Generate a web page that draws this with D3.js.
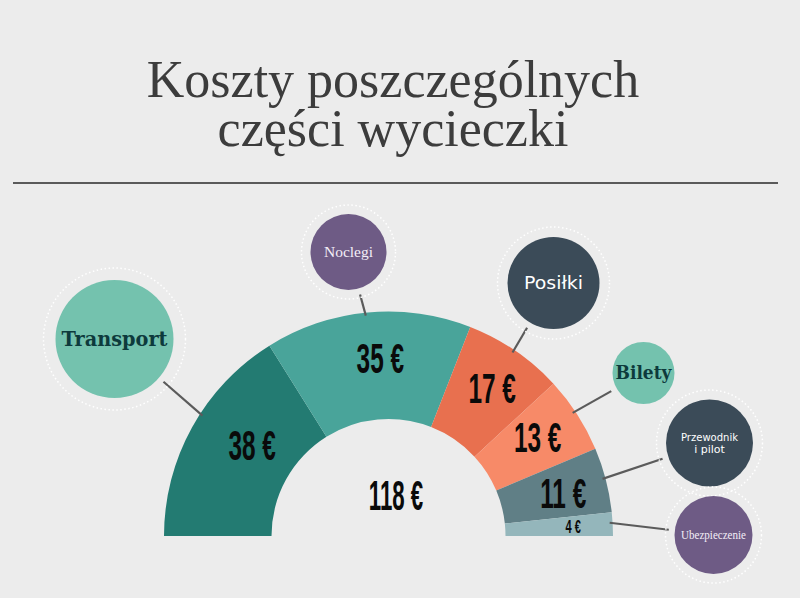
<!DOCTYPE html>
<html><head><meta charset="utf-8">
<script src="https://cdn.jsdelivr.net/npm/d3@7"></script>
<style>
html,body{margin:0;padding:0;background:#ececec;}
svg{display:block;}
</style></head>
<body>
<svg id="chart" width="800" height="598"></svg>
<script>
// ---- data ----
const categories = ["Transport","Noclegi","Posiłki","Bilety","Przewodnik i pilot","Ubezpieczenie"];
const values = [38, 35, 17, 13, 11, 4];
const valueLabels = ["38 €","35 €","17 €","13 €","11 €","4 €"];
const totalLabel = "118 €";
const titleLines = ["Koszty poszczególnych","części wycieczki"];

// ---- styles / layout ----
const sliceColors = ["#237b72","#49a49a","#e8704f","#f78a68","#607f86","#94b6bb"];
const bubbleColors = ["#74c2ae","#6e5b85","#3b4b58","#74c2ae","#3b4b58","#6e5b85"];
const bubbleTextColors = ["#0d3a3c","#f3eef7","#ffffff","#0d3a3c","#ffffff","#f3eef7"];
const bubbleFonts = ["'DejaVu Serif'","'Liberation Serif'","'DejaVu Sans'","'DejaVu Serif'","'DejaVu Sans'","'Liberation Serif'"];
const bubbleWeights = ["bold","normal","normal","bold","normal","normal"];
const bubbleFontSizes = [20, 15, 18, 19, 11, 12];
const bubbleTextWidths = [106, 49, 59, 56, 57, 65];
const bubbleRadius = [59, 38, 46, 31, 43.5, 39];
const bubbleRing = [71, 47, 56, 0, 53, 48];
// bubble centre offsets relative to the arc centre
const bubbleOffset = [[-274,-197],[-40,-284],[165,-253],[255,-163],[321,-93],[325,-1]];
// leader start angle (deg, measured from the left end of the half ring)
const leaderAngle = [33, 84, 124, 146.3, 165, 176.7];
// value label placement: angle nudge (deg) and radius
const labelNudge = [4.8, 2.7, 0.6, -0.8, 0.5, 0];
const labelRadius = [164, 178, 181, 179, 180, 185];
const labelSizes = [42, 42, 42, 42, 42, 19];

const svg = d3.select("#chart");
const cx = 388.5, cy = 536, R = 224.5, r0 = 117;

// title
svg.selectAll("text.title").data(titleLines).join("text")
  .attr("class","title")
  .attr("x", 393).attr("y",(d,i)=>97 + i*49)
  .attr("text-anchor","middle")
  .attr("font-family","'Liberation Serif', serif")
  .attr("font-size",52)
  .attr("fill","#3c3c3c")
  .text(d=>d);

svg.append("line").attr("x1",13).attr("x2",778).attr("y1",183).attr("y2",183)
  .attr("stroke","#5a5a5a").attr("stroke-width",2);

// half donut
const pie = d3.pie().sort(null).startAngle(-Math.PI/2).endAngle(Math.PI/2);
const arcs = pie(values);
const arcGen = d3.arc().innerRadius(r0).outerRadius(R);
const g = svg.append("g").attr("transform",`translate(${cx},${cy})`);

const toRad = d=>d*Math.PI/180;
const lead = svg.append("g");
categories.forEach((c,i)=>{
  const th = toRad(leaderAngle[i]);
  const x1 = cx - R*Math.cos(th), y1 = cy - R*Math.sin(th);
  const bx = cx + bubbleOffset[i][0], by = cy + bubbleOffset[i][1];
  const dx = bx - x1, dy = by - y1, dist = Math.hypot(dx,dy);
  const stop = dist - (bubbleRadius[i] + 6);
  lead.append("line")
    .attr("x1",x1 - dx/dist*3).attr("y1",y1 - dy/dist*3)
    .attr("x2",x1 + dx/dist*stop).attr("y2",y1 + dy/dist*stop)
    .attr("stroke","#5b5b5b").attr("stroke-width",2.2);
});

g.selectAll("path.slice").data(arcs).join("path")
  .attr("class","slice")
  .attr("d",arcGen)
  .attr("fill",(d,i)=>sliceColors[i]);

// value labels
g.selectAll("text.val").data(arcs).join("text")
  .attr("class","val")
  .attr("transform",(d,i)=>{
    const mid = (d.startAngle + d.endAngle)/2 + toRad(labelNudge[i]);
    const x = labelRadius[i]*Math.sin(mid);
    const y = -labelRadius[i]*Math.cos(mid) + labelSizes[i]*0.36;
    return `translate(${x},${y}) scale(0.58,1)`;
  })
  .attr("text-anchor","middle")
  .attr("font-family","'Liberation Sans', Arial, sans-serif")
  .attr("font-weight","bold")
  .attr("font-size",(d,i)=>labelSizes[i])
  .attr("fill","#0a0a0a")
  .text((d,i)=>valueLabels[i]);

g.append("text")
  .attr("transform",`translate(${396-cx},${510-cy}) scale(0.53,1)`)
  .attr("text-anchor","middle")
  .attr("font-family","'Liberation Sans', Arial, sans-serif")
  .attr("font-weight","bold")
  .attr("font-size",42)
  .attr("fill","#0a0a0a")
  .text(totalLabel);

// bubbles
const bub = svg.append("g");
categories.forEach((c,i)=>{
  const bx = cx + bubbleOffset[i][0], by = cy + bubbleOffset[i][1];
  if (bubbleRing[i] > 0) {
    bub.append("circle").attr("cx",bx).attr("cy",by).attr("r",bubbleRing[i])
      .attr("fill","none").attr("stroke","#ffffff").attr("stroke-width",1.5)
      .attr("stroke-dasharray","1.5,2.5");
  }
  bub.append("circle").attr("cx",bx).attr("cy",by).attr("r",bubbleRadius[i])
    .attr("fill",bubbleColors[i]);
  const words = c === "Przewodnik i pilot" ? ["Przewodnik","i pilot"] : [c];
  const lh = 12;
  words.forEach((w,k)=>{
    const t = bub.append("text")
      .attr("x",bx).attr("y",by + (k - (words.length-1)/2)*lh)
      .attr("dy","0.33em")
      .attr("text-anchor","middle")
      .attr("font-family",bubbleFonts[i])
      .attr("font-weight",bubbleWeights[i])
      .attr("font-size",bubbleFontSizes[i])
      .attr("fill",bubbleTextColors[i])
      .text(w);
    if (k===0) t.attr("textLength",bubbleTextWidths[i]).attr("lengthAdjust","spacingAndGlyphs");
  });
});
</script>
</body></html>
